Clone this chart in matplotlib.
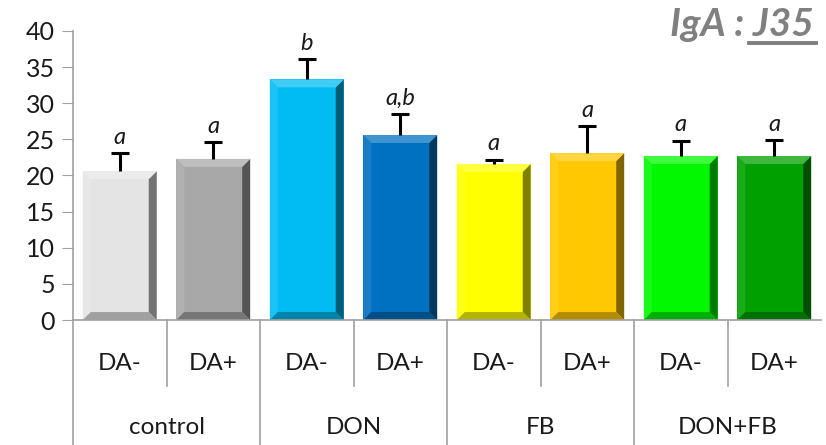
import matplotlib

matplotlib.use("Agg")
import matplotlib.pyplot as plt
import matplotlib.colors as mcolors
import matplotlib.transforms as mtransforms
from matplotlib.patches import Polygon

groups = ["control", "DON", "FB", "DON+FB"]
sub_labels = ["DA-", "DA+"] * 4
means = [20.6, 22.3, 33.3, 25.6, 21.6, 23.1, 22.7, 22.7]
err_top = [23.1, 24.6, 36.1, 28.5, 22.2, 26.8, 24.8, 24.9]
letters = ["a", "a", "b", "a,b", "a", "a", "a", "a"]
colors = ["#e4e4e4", "#a8a8a8", "#00bcf2", "#0070c0",
          "#ffff00", "#ffc800", "#00f800", "#00a000"]

plt.rcParams.update({"font.family": ["Lato", "DejaVu Sans"], "font.size": 17.5})


def mix(c, other, t):
    r = mcolors.to_rgb(c)
    o = mcolors.to_rgb(other)
    return tuple(r[i] * (1 - t) + o[i] * t for i in range(3))


fig = plt.figure(figsize=(8.26, 4.45), dpi=100)
ax = fig.add_axes([73 / 826, 1 - 320 / 445, 748 / 826, 289 / 445])

x = list(range(len(means)))
bars = ax.bar(x, means, width=0.79, color=colors, edgecolor="none", zorder=2)
ax.vlines(x, means, err_top, color="black", lw=2.2, zorder=3)
ax.plot(x, err_top, ls="none", marker="_", ms=13, mew=2.2, color="black", zorder=3)

# bevel look
bx, by = 0.085, 1.1
for rect, c in zip(bars, colors):
    x0, w, h = rect.get_x(), rect.get_width(), rect.get_height()
    x1 = x0 + w
    top = [(x0, h), (x1, h), (x1 - bx, h - by), (x0 + bx, h - by)]
    left = [(x0, 0), (x0, h), (x0 + bx, h - by), (x0 + bx, by)]
    right = [(x1, 0), (x1, h), (x1 - bx, h - by), (x1 - bx, by)]
    bottom = [(x0, 0), (x1, 0), (x1 - bx, by), (x0 + bx, by)]
    ax.add_patch(Polygon(left, closed=True, facecolor=mix(c, "white", 0.1), edgecolor="none", zorder=2.1))
    ax.add_patch(Polygon(right, closed=True, facecolor=mix(c, "black", 0.5), edgecolor="none", zorder=2.1))
    ax.add_patch(Polygon(bottom, closed=True, facecolor=mix(c, "black", 0.3), edgecolor="none", zorder=2.2))
    ax.add_patch(Polygon(top, closed=True, facecolor=mix(c, "white", 0.25), edgecolor="none", zorder=2.2))

for xi, t, lab in zip(x, err_top, letters):
    ax.annotate(lab, (xi, t), xytext=(0, 4), textcoords="offset points",
                ha="center", va="bottom", style="italic", fontsize=17, color="#1a1a1a")

ax.set_xlim(-0.5, 7.5)
ax.set_ylim(0, 40)
ax.set_yticks(range(0, 41, 5))
ax.set_xticks([])
ax.tick_params(axis="y", length=8, color="#a0a0a0", labelsize=18, pad=5, labelcolor="#1a1a1a")
for s in ["top", "right"]:
    ax.spines[s].set_visible(False)
for s in ["left", "bottom"]:
    ax.spines[s].set_color("#a0a0a0")
    ax.spines[s].set_linewidth(1.2)

# two-level category axis
trans = mtransforms.blended_transform_factory(ax.transData, ax.transAxes)
px = 1 / 289
for i in range(len(sub_labels)):
    ax.text(i, -43 * px, sub_labels[i], transform=trans, ha="center", va="center",
            fontsize=17.5, color="#1a1a1a")
for g in range(4):
    ax.text(2 * g + 0.5, -108 * px, groups[g], transform=trans, ha="center", va="center",
            fontsize=17.5, color="#1a1a1a")
    ax.plot([2 * g + 0.5] * 2, [0, -66 * px], transform=trans, color="#a0a0a0",
            lw=1.2, clip_on=False)
    ax.plot([2 * g - 0.5] * 2, [0, -130 * px], transform=trans, color="#a0a0a0",
            lw=1.2, clip_on=False)

# title
fig.text(814 / 826, 1 - 24 / 445, "IgA : J35", ha="right", va="center", fontsize=28,
         weight="bold", style="italic", color="#808080")
fig.add_artist(plt.Line2D([749 / 826, 816 / 826], [1 - 43 / 445] * 2, color="#808080", lw=2.8))

fig.savefig("out.png", dpi=100)
